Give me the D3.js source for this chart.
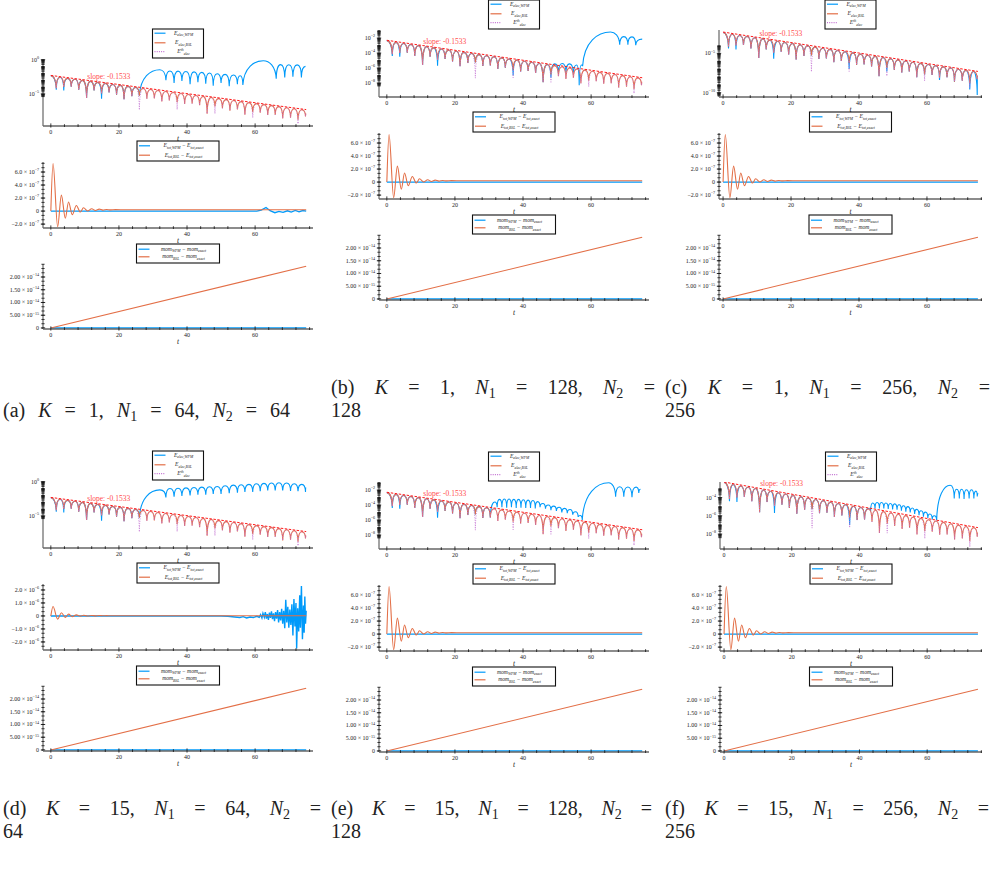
<!DOCTYPE html>
<html>
<head>
<meta charset="utf-8">
<script src="https://cdn.jsdelivr.net/npm/d3@7"></script>
<style>
body { margin: 0; background: #fff; }
text { font-family: "Liberation Serif", serif; fill: #222; }
</style>
</head>
<body>
<svg id="fig" width="992" height="881"></svg>
<script>
// ---- E_elec (log10 values) ----
const tTrough = [1.6, 3.8, 6.0, 8.2, 10.5, 12.7, 14.9, 17.1, 19.3, 21.5, 23.8, 26.0, 28.2, 30.4, 32.6, 34.8, 37.1, 39.3, 41.5, 43.7, 45.9, 48.2, 50.4, 52.6, 54.8, 57.0, 59.3, 61.5, 63.7, 65.9, 68.1, 70.4, 72.6, 74.8];
const tPeak = [0, 2.7, 4.9, 7.1, 9.35, 11.6, 13.8, 16.0, 18.2, 20.4, 22.65, 24.9, 27.1, 29.3, 31.5, 33.7, 35.95, 38.2, 40.4, 42.6, 44.8, 47.05, 49.3, 51.5, 53.7, 55.9, 58.15, 60.4, 62.6, 64.8, 67.0, 69.25, 71.5, 73.7, 75.0];
const peakBSL = [-2.35, -2.58, -2.73, -2.87, -3.02, -3.17, -3.32, -3.47, -3.62, -3.76, -3.91, -4.06, -4.21, -4.36, -4.50, -4.65, -4.80, -4.95, -5.10, -5.24, -5.39, -5.54, -5.69, -5.84, -5.98, -6.13, -6.28, -6.43, -6.58, -6.72, -6.87, -7.02, -7.17, -7.32, -7.9];
const troughBSL = [-4.16, -4.0, -3.95, -4.4, -5.6, -4.5, -4.94, -4.79, -5.14, -5.78, -5.34, -5.28, -5.73, -5.67, -6.12, -5.97, -6.22, -6.47, -6.41, -6.66, -7.9, -6.86, -7.11, -7.45, -7.3, -8.05, -7.7, -7.75, -8.09, -8.04, -8.6, -8.5, -8.8, -8.3];
const troughWPM = [-4.4, -4.5, -3.95, -4.4, -5.6, -4.5, -5.7, -4.79, -5.14, -5.78, -5.34, -5.28, -5.73, -5.67, -6.12, -5.97, -7.0, -6.47, -6.41, -6.66, -7.9, -7.3, -7.11, -7.45, -7.3, -8.05, -7.7, -7.75, -8.4, -8.04, -8.6, -8.5, -9.6, -10.3];
const troughTh = [-4.16, -4.0, -3.95, -4.4, -5.6, -4.5, -4.94, -4.79, -5.14, -5.78, -5.34, -7.35, -5.73, -5.67, -6.12, -5.97, -7.3, -6.47, -6.41, -6.66, -7.9, -7.9, -7.11, -7.45, -7.3, -8.05, -8.5, -7.75, -8.09, -8.04, -8.6, -8.5, -9.4, -8.3];
const fitLine = [[0, -2.3], [75, -7.3]];

// WPM after it leaves the BSL curve: [t, log10 E], peak / trough alternating
const depA = [[32.0,-1.47],[33.8,-3.0],[35.0,-1.65],[36.2,-3.4],[37.35,-1.68],[38.5,-3.1],[39.7,-1.72],[40.9,-3.6],[42.05,-1.78],[43.2,-3.3],[44.35,-1.85],[45.5,-3.5],[46.6,-1.95],[47.7,-3.8],[48.85,-2.05],[50.0,-3.4],[51.2,-2.15],[52.4,-3.9],[53.6,-2.25],[54.8,-3.6],[55.6,-2.35],[56.4,-3.7],[62.4,-0.15],[66.2,-2.8],[67.45,-0.72],[68.7,-2.6],[69.9,-0.74],[71.1,-2.5],[72.35,-0.76],[73.6,-2.6],[74.8,-0.98]];
const depB = [[49.3,-5.45],[50.4,-6.7],[51.5,-5.4],[52.6,-6.6],[53.7,-5.45],[54.8,-6.9],[55.7,-5.6],[56.5,-8.3],[57.2,-5.6],[57.5,-5.75],[65.7,-1.2],[68.4,-2.9],[69.6,-1.82],[70.8,-2.9],[72.0,-1.85],[73.1,-2.95],[75.0,-2.15]];
const depD = [[32.0,-1.2],[33.8,-2.3],[35.0,-1.0],[36.2,-2.2],[37.35,-0.95],[38.5,-2.1],[39.7,-0.9],[40.9,-2.0],[42.05,-0.85],[43.2,-1.9],[44.35,-0.8],[45.5,-1.9],[46.6,-0.75],[47.7,-1.8],[48.85,-0.7],[50.0,-1.8],[51.2,-0.6],[52.4,-1.7],[53.6,-0.5],[54.8,-1.6],[55.9,-0.45],[57.0,-1.5],[58.2,-0.4],[59.3,-1.5],[60.4,-0.3],[61.5,-1.4],[62.6,-0.25],[63.7,-1.3],[64.8,-0.2],[65.9,-1.3],[67.0,-0.15],[68.1,-1.3],[69.25,-0.2],[70.4,-1.35],[71.5,-0.3],[72.6,-1.4],[73.7,-0.4],[74.8,-1.5],[75.0,-0.9]];
const depE = [[31.7,-3.6],[32.4,-4.3],[33.1,-3.25],[33.8,-4.3],[34.5,-3.2],[35.2,-4.35],[35.9,-3.2],[36.6,-4.3],[37.3,-3.25],[38.0,-4.4],[38.7,-3.25],[39.4,-4.35],[40.1,-3.3],[40.8,-4.4],[41.5,-3.35],[42.2,-4.4],[42.9,-3.4],[43.6,-4.45],[44.3,-3.55],[45.0,-4.3],[45.8,-3.8],[46.6,-4.5],[47.4,-4.0],[48.2,-4.7],[49.0,-4.15],[49.8,-4.8],[50.6,-4.3],[51.4,-5.0],[52.2,-4.45],[53.0,-5.1],[53.8,-4.6],[54.6,-5.3],[55.4,-4.9],[56.2,-5.6],[56.8,-5.4],[57.4,-6.0],[65.2,-1.03],[67.2,-2.9],[68.4,-1.56],[69.6,-2.9],[70.8,-1.6],[72.0,-2.95],[73.2,-1.62],[74.0,-2.4],[74.5,-1.9]];
const depF = [[42.6,-5.2],[43.3,-5.5],[43.9,-4.6],[44.6,-5.2],[45.2,-4.55],[45.9,-5.2],[46.5,-4.55],[47.2,-5.2],[47.8,-4.6],[48.5,-5.25],[49.1,-4.65],[49.8,-5.3],[50.4,-4.7],[51.1,-5.35],[51.7,-4.8],[52.4,-5.45],[53.0,-4.9],[53.7,-5.55],[54.3,-5.0],[55.0,-5.65],[55.6,-5.15],[56.3,-5.8],[56.9,-5.3],[57.6,-5.95],[58.2,-5.45],[58.9,-6.1],[59.5,-5.6],[60.2,-6.25],[60.8,-5.8],[61.5,-6.4],[62.1,-6.0],[62.8,-6.5],[66.8,-2.66],[68.0,-4.1],[68.7,-3.1],[69.5,-4.1],[70.2,-3.1],[70.9,-4.15],[71.6,-3.15],[72.4,-4.1],[73.1,-3.15],[73.8,-4.1],[74.4,-3.3],[74.8,-3.9],[75.1,-3.56]];

// ---- total energy error ----
const totT   = [0, 0.65, 2.0, 3.1, 4.25, 5.2, 6.3, 7.5, 8.65, 9.6, 10.8, 12.0, 13.1, 14.2, 15.3, 16.4, 17.5, 19, 22, 75];
const totBSL = [0, 7.3e-7, -2.4e-7, 2.45e-7, -1.1e-7, 1.4e-7, -0.55e-7, 0.85e-7, -0.15e-7, 0.5e-7, 0.02e-7, 0.35e-7, 0.1e-7, 0.3e-7, 0.15e-7, 0.25e-7, 0.18e-7, 0.22e-7, 0.2e-7, 0.2e-7];
const totWPMflat = [[0, 0], [75, 0]];
const totWPMa = [[0,0],[60.5,0],[61.8,0.15e-7],[63.2,0.55e-7],[64.4,0.05e-7],[65.8,-0.25e-7],[67.0,-0.05e-7],[68.2,-0.2e-7],[69.5,0.05e-7],[70.6,-0.15e-7],[71.8,0.1e-7],[72.9,-0.12e-7],[74.0,0.08e-7],[75,0]];
const totWPMd = [[0,0],[50,0],[52,-0.02e-6],[54,-0.08e-6],[55.5,-0.12e-6],[56.5,-0.05e-6],[57.5,-0.15e-6],[58.5,-0.08e-6],[59.5,-0.12e-6],[60.5,-0.03e-6],[61.2,-0.1e-6],[61.6,0.1e-6],[62.0,-0.15e-6],[62.3,0.2e-6],[62.7,-0.1e-6],[63.0,0.3e-6],[63.3,-0.2e-6],[63.6,0.15e-6],[63.9,-0.3e-6],[64.2,0.25e-6],[64.5,-0.15e-6],[64.8,0.35e-6],[65.1,-0.25e-6],[65.4,0.2e-6],[65.7,-0.4e-6],[66.0,0.3e-6],[66.3,-0.2e-6],[66.6,0.45e-6],[66.9,-0.5e-6],[67.2,0.3e-6],[67.5,-0.35e-6],[67.8,0.55e-6],[68.1,-0.6e-6],[68.4,0.4e-6],[68.7,-0.95e-6],[69.0,1.25e-6],[69.3,-0.5e-6],[69.6,0.7e-6],[69.9,-0.9e-6],[70.2,0.5e-6],[70.5,-0.7e-6],[70.8,0.9e-6],[71.1,-1.5e-6],[71.4,1.3e-6],[71.7,-0.8e-6],[72.0,1.0e-6],[72.2,-2.5e-6],[72.5,0.6e-6],[72.8,-1.2e-6],[73.1,1.6e-6],[73.3,-0.9e-6],[73.6,2.3e-6],[73.9,-1.8e-6],[74.2,0.8e-6],[74.4,-1.3e-6],[74.6,1.5e-6],[74.8,-0.6e-6],[75.0,0.4e-6]];

// ---- momentum error ----
const momBSL = [[0, 0], [75, 2.42e-14]];
const momWPM = [[0, 0], [75, 0]];

// ---- tick labels ----
const totTicks  = [[-2e-7, "−2.0", "−7"], [0, "0"], [2e-7, "2.0", "−7"], [4e-7, "4.0", "−7"], [6e-7, "6.0", "−7"]];
const totTicksD = [[-2e-6, "−2.0", "−6"], [-1e-6, "−1.0", "−6"], [0, "0"], [1e-6, "1.0", "−6"], [2e-6, "2.0", "−6"]];
const momTicks  = [[0, "0"], [5e-15, "5.00", "−15"], [1e-14, "1.00", "−14"], [1.5e-14, "1.50", "−14"], [2e-14, "2.00", "−14"]];
const xTickLabels = [0, 20, 40, 60];

const captions = [
  {x0: 3,   x1: 290, y: 417, words: ["(a)", "K", "=", "1,", "N_{1}", "=", "64,", "N_{2}", "=", "64"]},
  {x0: 331, x1: 655, y: 394, words: ["(b)", "K", "=", "1,", "N_{1}", "=", "128,", "N_{2}", "="]},
  {x0: 331, y: 417, words: ["128"]},
  {x0: 665, x1: 990, y: 394, words: ["(c)", "K", "=", "1,", "N_{1}", "=", "256,", "N_{2}", "="]},
  {x0: 665, y: 417, words: ["256"]},
  {x0: 3,   x1: 321, y: 815, words: ["(d)", "K", "=", "15,", "N_{1}", "=", "64,", "N_{2}", "="]},
  {x0: 3,   y: 838, words: ["64"]},
  {x0: 331, x1: 652, y: 815, words: ["(e)", "K", "=", "15,", "N_{1}", "=", "128,", "N_{2}", "="]},
  {x0: 331, y: 838, words: ["128"]},
  {x0: 665, x1: 989, y: 815, words: ["(f)", "K", "=", "15,", "N_{1}", "=", "256,", "N_{2}", "="]},
  {x0: 665, y: 838, words: ["256"]}
];

const subfigs = [
  {x0: 43,  x1: 313, dy: 0,   xDom: [-2.3, 77],   logDom: [-9.7, 0.1],    logTicks: [-5, 0],          cut: 26.0, dep: depA, totDom: [-2.6e-7, 7.54e-7], totTk: totTicks,  totW: totWPMa},
  {x0: 379, x1: 649, dy: -29, xDom: [-2.3, 77],   logDom: [-9.87, -0.93], logTicks: [-8, -6, -4, -2], cut: 48.2, dep: depB, totDom: [-2.6e-7, 7.54e-7], totTk: totTicks,  totW: totWPMflat},
  {x0: 719, x1: 982, dy: -29, xDom: [-1.2, 76.2], logDom: [-10.55, -2.04],logTicks: [-10, -5],        cut: 99,   dep: [],   totDom: [-2.6e-7, 7.54e-7], totTk: totTicks,  totW: totWPMflat},
  {x0: 43,  x1: 313, dy: 422, xDom: [-2.3, 77],   logDom: [-9.7, 0.1],    logTicks: [-5, 0],          cut: 26.0, dep: depD, totDom: [-2.62e-6, 2.46e-6],totTk: totTicksD, totW: totWPMd},
  {x0: 379, x1: 649, dy: 423, xDom: [-2.3, 77],   logDom: [-9.87, -0.93], logTicks: [-8, -6, -4, -2], cut: 30.4, dep: depE, totDom: [-2.6e-7, 7.54e-7], totTk: totTicks,  totW: totWPMflat},
  {x0: 720, x1: 982, dy: 423, xDom: [-1.2, 76.2], logDom: [-9.64, -2.3],  logTicks: [-8, -6, -4],     cut: 41.5, dep: depF, totDom: [-2.6e-7, 7.54e-7], totTk: totTicks,  totW: totWPMflat}
];

const blue = "#009AFA", red = "#E36F47", purple = "#C371D2";
const svg = d3.select("#fig");
let clipN = 0;

// curve for |E| on a log axis: round tops, sharp dips
function CurveLobe(context) { this._context = context; }
CurveLobe.prototype = {
  areaStart() { this._line = 0; },
  areaEnd() { this._line = NaN; },
  lineStart() { this._p = null; },
  lineEnd() {},
  point(x, y) {
    x = +x; y = +y;
    const c = this._context;
    if (!this._p) c.moveTo(x, y);
    else {
      const [x0, y0] = this._p, dx = x - x0;
      if (y < y0) c.bezierCurveTo(x0 + 0.05 * dx, y0 + 0.72 * (y - y0), x - 0.45 * dx, y, x, y);
      else c.bezierCurveTo(x0 + 0.45 * dx, y0, x - 0.05 * dx, y0 + 0.28 * (y - y0), x, y);
    }
    this._p = [x, y];
  }
};
const curveLobe = ctx => new CurveLobe(ctx);

// text with _{sub} / ^{sup} parts
function rich(t, str, size) {
  const re = /([_^])\{([^}]*)\}|([^_^]+)/g;
  let m, shift = 0;
  while ((m = re.exec(str))) {
    if (m[3]) {
      t.append("tspan").attr("dy", -shift).attr("font-size", size).text(m[3]);
      shift = 0;
    } else {
      const d = m[1] === "_" ? size * 0.3 : -size * 0.45;
      t.append("tspan").attr("dy", d - shift).attr("font-size", size * 0.68).text(m[2]);
      shift = d;
    }
  }
  return t;
}

function seqOf(troughs) {
  const s = [];
  tPeak.forEach((t, i) => {
    s.push([t, peakBSL[i]]);
    if (i < tTrough.length) s.push([tTrough[i], troughs[i]]);
  });
  return s;
}

function clipRect(g, x0, x1, y0, y1) {
  const id = "c" + (clipN++);
  g.append("clipPath").attr("id", id).append("rect")
    .attr("x", x0).attr("y", y0).attr("width", x1 - x0).attr("height", y1 - y0);
  return g.append("g").attr("clip-path", "url(#" + id + ")");
}

function xAxis(g, x, yb) {
  const [x0, x1] = x.range();
  g.append("line").attr("x1", x0).attr("x2", x1).attr("y1", yb).attr("y2", yb)
    .attr("stroke", "#666").attr("stroke-width", 1.4);
  d3.range(0, 77, 4).forEach(t => {
    const major = t % 20 === 0;
    g.append("line").attr("x1", x(t)).attr("x2", x(t))
      .attr("y1", yb - (major ? 2.6 : 1.8)).attr("y2", yb + (major ? 1.6 : 1))
      .attr("stroke", "#111").attr("stroke-width", 0.8);
  });
  xTickLabels.forEach(t => {
    g.append("text").attr("x", x(t)).attr("y", yb + 8).attr("text-anchor", "middle")
      .attr("font-size", 6).text(t);
  });
  g.append("text").attr("x", (x0 + x1) / 2).attr("y", yb + 15).attr("text-anchor", "middle")
    .attr("font-size", 7.5).attr("font-style", "italic").text("t");
}

function yAxisLine(g, x0, y) {
  const [yb, yt] = y.range();
  g.append("line").attr("x1", x0).attr("x2", x0).attr("y1", yb).attr("y2", yt)
    .attr("stroke", "#666").attr("stroke-width", 1.2);
}

function tick(g, x0, yy, major) {
  g.append("line").attr("x1", x0 - (major ? 2.2 : 1.6)).attr("x2", x0 + (major ? 2.2 : 1.6))
    .attr("y1", yy).attr("y2", yy).attr("stroke", "#111").attr("stroke-width", 0.8);
}

function legend(g, cx, top, w, h, rows, fs) {
  const left = cx - w / 2;
  g.append("rect").attr("x", left).attr("y", top).attr("width", w).attr("height", h)
    .attr("fill", "#fff").attr("stroke", "#111").attr("stroke-width", 1.1);
  rows.forEach(r => {
    g.append("line").attr("x1", left + 2).attr("x2", left + 13).attr("y1", top + r.dy).attr("y2", top + r.dy)
      .attr("stroke", r.color).attr("stroke-width", 1.2).attr("stroke-dasharray", r.dash || null);
    const t = g.append("text").attr("x", left + 13 + (w - 15) / 2).attr("y", top + r.dy + 1.6)
      .attr("text-anchor", "middle").attr("font-style", "italic");
    rich(t, r.label, fs);
  });
}

function drawSub(sf) {
  const g = svg.append("g");
  const x = d3.scaleLinear().domain(sf.xDom).range([sf.x0, sf.x1]);
  const cx = (sf.x0 + sf.x1) / 2;

  // ---------- panel 1: E_elec on log axis ----------
  const t1 = 59 + sf.dy, b1 = 126 + sf.dy;
  const y1 = d3.scaleLinear().domain(sf.logDom).range([b1, t1]);
  const line1 = d3.line().x(d => x(d[0])).y(d => y1(d[1])).curve(curveLobe);
  const pg = clipRect(g, sf.x0, sf.x1, t1, b1);

  let wpm = seqOf(troughWPM).filter(d => d[0] <= sf.cut).concat(sf.dep);
  if (sf.cut > 90) wpm = seqOf(troughWPM);
  pg.append("path").attr("d", line1(wpm)).attr("fill", "none").attr("stroke", blue).attr("stroke-width", 1.1);
  pg.append("path").attr("d", line1(seqOf(troughBSL))).attr("fill", "none").attr("stroke", red).attr("stroke-width", 1.1);
  pg.append("path").attr("d", line1(seqOf(troughTh))).attr("fill", "none").attr("stroke", purple)
    .attr("stroke-width", 1).attr("stroke-dasharray", "1,1.4").attr("opacity", 0.8);
  pg.append("path").attr("d", d3.line().x(d => x(d[0])).y(d => y1(d[1]))(fitLine)).attr("fill", "none")
    .attr("stroke", "#ff1a1a").attr("stroke-width", 1).attr("stroke-dasharray", "2.5,1.5");
  g.append("text").attr("x", x(17)).attr("y", y1(-2.5) + 2.5).attr("text-anchor", "middle")
    .attr("font-size", 7.5).style("fill", "#ff4d4d").text("slope: -0.1533");

  yAxisLine(g, sf.x0, y1);
  const lo = d3.min(sf.logTicks), hi = d3.max(sf.logTicks);
  for (let d = lo - 1; d <= hi; d++) {
    for (let k = 1; k <= 9; k++) {
      const v = d + Math.log10(k);
      if (v >= lo - 0.45 && v <= sf.logDom[1]) tick(g, sf.x0, y1(v), k === 1 && sf.logTicks.includes(d));
    }
  }
  sf.logTicks.forEach(d => {
    const t = g.append("text").attr("x", sf.x0 - 4).attr("y", y1(d) + 2).attr("text-anchor", "end");
    rich(t, "10^{" + (d === 0 ? "0" : "−" + (-d)) + "}", 6);
  });
  xAxis(g, x, b1);
  legend(g, cx, 29 + sf.dy, 51, 29, [
    {dy: 4.2, color: blue, label: "E_{elec,WPM}"},
    {dy: 13.8, color: red, label: "E_{elec,BSL}"},
    {dy: 22.6, color: purple, dash: "1,1.2", label: "E^{th}_{elec}"}
  ], 5.6);

  // ---------- panel 2: total energy error ----------
  const t2 = 162 + sf.dy, b2 = 228 + sf.dy;
  const y2 = d3.scaleLinear().domain(sf.totDom).range([b2, t2]);
  const line2 = d3.line().x(d => x(d[0])).y(d => y2(d[1])).curve(d3.curveMonotoneX);
  const pg2 = clipRect(g, sf.x0, sf.x1, t2, b2);
  pg2.append("path").datum(sf.totW).attr("d", d3.line().x(d => x(d[0])).y(d => y2(d[1])))
    .attr("fill", "none").attr("stroke", blue).attr("stroke-width", 1.4);
  pg2.append("path").datum(totT.map((t, i) => [t, totBSL[i]])).attr("d", line2)
    .attr("fill", "none").attr("stroke", red).attr("stroke-width", 1.1);
  yAxisLine(g, sf.x0, y2);
  const st2 = sf.totTk[1][0] - sf.totTk[0][0];
  d3.range(sf.totTk[0][0] - st2, sf.totDom[1], st2 / 3).forEach(v => {
    if (v >= sf.totDom[0]) tick(g, sf.x0, y2(v), false);
  });
  sf.totTk.forEach(tk => {
    tick(g, sf.x0, y2(tk[0]), true);
    const t = g.append("text").attr("x", sf.x0 - 4).attr("y", y2(tk[0]) + 2).attr("text-anchor", "end");
    rich(t, tk.length > 2 ? tk[1] + " × 10^{" + tk[2] + "}" : tk[1], 6);
  });
  xAxis(g, x, b2);
  legend(g, cx, 141 + sf.dy, 82, 20, [
    {dy: 4.8, color: blue, label: "E_{tot,WPM} − E_{tot,exact}"},
    {dy: 14.2, color: red, label: "E_{tot,BSL} − E_{tot,exact}"}
  ], 5.6);

  // ---------- panel 3: momentum error ----------
  const t3 = 264 + sf.dy, b3 = 329 + sf.dy;
  const y3 = d3.scaleLinear().domain([-0.04e-14, 2.51e-14]).range([b3, t3]);
  const line3 = d3.line().x(d => x(d[0])).y(d => y3(d[1]));
  const pg3 = clipRect(g, sf.x0, sf.x1, t3, b3);
  pg3.append("path").datum(momWPM).attr("d", line3).attr("fill", "none").attr("stroke", blue).attr("stroke-width", 1.6);
  pg3.append("path").datum(momBSL).attr("d", line3).attr("fill", "none").attr("stroke", red).attr("stroke-width", 1.1);
  yAxisLine(g, sf.x0, y3);
  d3.range(0, 2.51e-14, 5e-15 / 3).forEach(v => tick(g, sf.x0, y3(v), false));
  momTicks.forEach(tk => {
    tick(g, sf.x0, y3(tk[0]), true);
    const t = g.append("text").attr("x", sf.x0 - 4).attr("y", y3(tk[0]) + 2).attr("text-anchor", "end");
    rich(t, tk.length > 2 ? tk[1] + " × 10^{" + tk[2] + "}" : tk[1], 6);
  });
  xAxis(g, x, b3);
  legend(g, cx, 244 + sf.dy, 83, 19, [
    {dy: 5.2, color: blue, label: "mom_{WPM} − mom_{exact}"},
    {dy: 12.8, color: red, label: "mom_{BSL} − mom_{exact}"}
  ], 5.6);
}

subfigs.forEach(drawSub);

// ---- captions (justified like the LaTeX subcaptions) ----
captions.forEach(c => {
  const g = svg.append("g");
  const nodes = c.words.map(w => {
    const t = g.append("text").attr("y", c.y).attr("font-size", 20);
    const m = w.match(/^([A-Z])(?:_\{(\d)\})?$/);
    if (m) {
      t.append("tspan").attr("font-style", "italic").text(m[1]);
      if (m[2]) t.append("tspan").attr("font-size", 14).attr("dy", 4).text(m[2]);
    } else {
      t.text(w);
    }
    return t;
  });
  const widths = nodes.map(n => n.node().getComputedTextLength());
  const gap = c.x1 && nodes.length > 1 ? (c.x1 - c.x0 - d3.sum(widths)) / (nodes.length - 1) : 4.5;
  let xx = c.x0;
  nodes.forEach((n, i) => { n.attr("x", xx); xx += widths[i] + gap; });
});
</script>
</body>
</html>
